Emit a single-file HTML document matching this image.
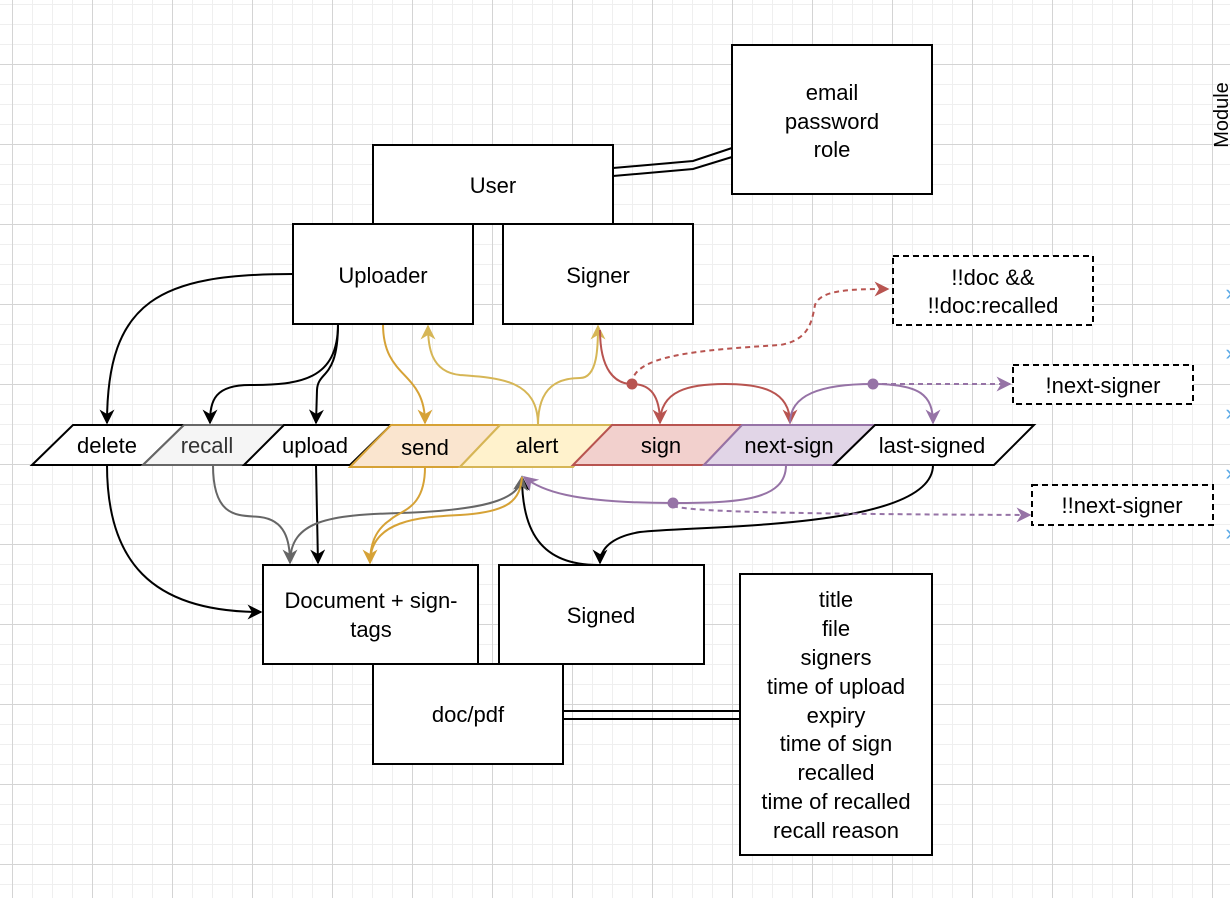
<!DOCTYPE html>
<html><head><meta charset="utf-8"><style>
html,body{margin:0;padding:0}
body{width:1230px;height:898px;overflow:hidden;background-color:#fff;
background-image:linear-gradient(to right,#d4d4d4 1px,transparent 1px),linear-gradient(to bottom,#d4d4d4 1px,transparent 1px),linear-gradient(to right,#efefef 1px,transparent 1px),linear-gradient(to bottom,#efefef 1px,transparent 1px);
background-size:80px 80px,80px 80px,20px 20px,20px 20px;
background-position:12px 0,0 64px,12px 0,0 4px;}
svg{position:absolute;left:0;top:0}
text{font-family:"Liberation Sans",Arial,sans-serif;font-size:22px;text-anchor:middle;fill:#000}
</style></head><body>
<svg width="1230" height="898" viewBox="0 0 1230 898">
<defs>
<marker id="k" viewBox="0 0 10 10" refX="9" refY="5" markerWidth="15" markerHeight="15" orient="auto-start-reverse" markerUnits="userSpaceOnUse"><path d="M0,0 L10,5 L0,10 L3,5z" fill="#000"/></marker>
<marker id="g" viewBox="0 0 10 10" refX="9" refY="5" markerWidth="15" markerHeight="15" orient="auto-start-reverse" markerUnits="userSpaceOnUse"><path d="M0,0 L10,5 L0,10 L3,5z" fill="#666"/></marker>
<marker id="o" viewBox="0 0 10 10" refX="9" refY="5" markerWidth="15" markerHeight="15" orient="auto-start-reverse" markerUnits="userSpaceOnUse"><path d="M0,0 L10,5 L0,10 L3,5z" fill="#d6a236"/></marker>
<marker id="y" viewBox="0 0 10 10" refX="9" refY="5" markerWidth="15" markerHeight="15" orient="auto-start-reverse" markerUnits="userSpaceOnUse"><path d="M0,0 L10,5 L0,10 L3,5z" fill="#d6b656"/></marker>
<marker id="r" viewBox="0 0 10 10" refX="9" refY="5" markerWidth="15" markerHeight="15" orient="auto-start-reverse" markerUnits="userSpaceOnUse"><path d="M0,0 L10,5 L0,10 L3,5z" fill="#b85450"/></marker>
<marker id="p" viewBox="0 0 10 10" refX="9" refY="5" markerWidth="15" markerHeight="15" orient="auto-start-reverse" markerUnits="userSpaceOnUse"><path d="M0,0 L10,5 L0,10 L3,5z" fill="#9673a6"/></marker>
</defs>
<g fill="none" stroke-width="2">
<path d="M293,274 C160,274 107,300 107,423" stroke="#000" marker-end="url(#k)"/>
<path d="M338,324 C338,380 300,385 250,385 C215,385 210,400 210,423" stroke="#000" marker-end="url(#k)"/>
<path d="M338,324 C338,380 318,370 317,390 L316,423" stroke="#000" marker-end="url(#k)"/>
<path d="M107,465 C107,560 150,612 261,612" stroke="#000" marker-end="url(#k)"/>
<path d="M316,465 L318,563" stroke="#000" marker-end="url(#k)"/>
<path d="M933,465 C933,530 700,525 640,532 C610,537 600,550 600,563" stroke="#000" marker-end="url(#k)"/>
<path d="M598,565 C540,565 522,530 522,477" stroke="#000" marker-end="url(#k)"/>
<path d="M213,465 C213,520 240,515 260,517 C285,520 290,540 290,563" stroke="#666" marker-end="url(#g)"/>
<path d="M290,563 C290,520 330,515 400,513 C500,510 520,495 522,477" stroke="#666" marker-end="url(#g)"/>
<path d="M383,324 C383,380 425,370 425,423" stroke="#d6a236" marker-end="url(#o)"/>
<path d="M425,467 C425,510 400,510 390,520 C375,530 370,545 370,563" stroke="#d6a236" marker-end="url(#o)"/>
<path d="M370,563 C370,520 420,517 460,515 C510,512 520,500 522,477" stroke="#d6a236"/>
<path d="M538,425 C538,380 500,378 460,375 C430,372 428,345 428,326" stroke="#d6b656" marker-end="url(#y)"/>
<path d="M538,425 C538,385 560,378 580,378 C598,378 598,345 598,326" stroke="#d6b656" marker-end="url(#y)"/>
<path d="M600,330 C600,370 615,384 632,384 C650,384 660,395 660,423" stroke="#b85450" marker-end="url(#r)"/>
<path d="M632,384 C632,355 700,350 780,345 C810,340 812,320 815,305 C820,290 850,289 888,289" stroke="#b85450" stroke-dasharray="5,4" marker-end="url(#r)"/>
<path d="M660,423 C660,390 690,384 725,384 C760,384 790,390 790,423" stroke="#b85450" marker-end="url(#r)"/>
<path d="M790,423 C790,395 820,384 873,384 C920,384 933,395 933,423" stroke="#9673a6" marker-end="url(#p)"/>
<path d="M873,384 L1010,384" stroke="#9673a6" stroke-dasharray="5,4" marker-end="url(#p)"/>
<path d="M786,465 C786,500 740,503 673,503 C570,503 540,490 524,477" stroke="#9673a6" marker-end="url(#p)"/>
<path d="M673,506 C690,512 800,514 1030,515" stroke="#9673a6" stroke-dasharray="5,4" marker-end="url(#p)"/>
<path d="M613,168 L693,161 L732,148" stroke="#000"/>
<path d="M613,176 L693,169 L732,157" stroke="#000"/>
<path d="M563,711 L740,711 M563,719 L740,719" stroke="#000"/>
</g>
<circle cx="632" cy="384" r="5.5" fill="#b85450"/>
<circle cx="873" cy="384" r="5.5" fill="#9673a6"/>
<circle cx="673" cy="503" r="5.5" fill="#9673a6"/>
<g stroke="#000" stroke-width="2" fill="#fff">
<rect x="732" y="45" width="200" height="149"/>
<rect x="373" y="145" width="240" height="79"/>
<rect x="293" y="224" width="180" height="100"/>
<rect x="503" y="224" width="190" height="100"/>
<rect x="263" y="565" width="215" height="99"/>
<rect x="499" y="565" width="205" height="99"/>
<rect x="373" y="664" width="190" height="100"/>
<rect x="740" y="574" width="192" height="281"/>
<g stroke-dasharray="6,4">
<rect x="893" y="256" width="200" height="69"/>
<rect x="1013" y="365" width="180" height="39"/>
<rect x="1032" y="485" width="181" height="40"/>
</g>
<polygon points="32,465 73,425 184,425 143,465"/>
<polygon points="143,465 184,425 284,425 244,465" fill="#f5f5f5" stroke="#666"/>
<polygon points="244,465 284,425 391,425 350,465"/>
<polygon points="350,467 391,425 500,425 460,467" fill="#fae5cf" stroke="#d6a236"/>
<polygon points="460,467 500,425 612,425 573,467" fill="#fff2cc" stroke="#d6b656"/>
<polygon points="573,465 612,425 742,425 704,465" fill="#f2d0cd" stroke="#b85450"/>
<polygon points="704,465 742,425 875,425 834,465" fill="#e1d5e7" stroke="#9673a6"/>
<polygon points="834,465 875,425 1034,425 994,465"/>
</g>
<text x="832" y="100">email</text><text x="832" y="129">password</text><text x="832" y="157">role</text>
<text x="493" y="193">User</text>
<text x="383" y="283">Uploader</text>
<text x="598" y="283">Signer</text>
<text x="993" y="285">!!doc &amp;&amp;</text><text x="993" y="313">!!doc:recalled</text>
<text x="1103" y="393">!next-signer</text>
<text x="1122" y="513">!!next-signer</text>
<text x="107" y="453">delete</text>
<text x="207" y="453" style="fill:#333">recall</text>
<text x="315" y="453">upload</text>
<text x="425" y="455">send</text>
<text x="537" y="453">alert</text>
<text x="661" y="453">sign</text>
<text x="789" y="453">next-sign</text>
<text x="932" y="453">last-signed</text>
<text x="371" y="608">Document + sign-</text><text x="371" y="637">tags</text>
<text x="601" y="623">Signed</text>
<text x="468" y="722">doc/pdf</text>
<text x="836" y="607">title</text><text x="836" y="636">file</text><text x="836" y="665">signers</text><text x="836" y="694">time of upload</text><text x="836" y="723">expiry</text><text x="836" y="751">time of sign</text><text x="836" y="780">recalled</text><text x="836" y="809">time of recalled</text><text x="836" y="838">recall reason</text>
<text x="0" y="0" transform="translate(1228,115) rotate(-90)" style="font-size:20px">Module</text>
<g style="font-size:14px;fill:#5aa9e6"><text x="1229" y="300" style="fill:#5aa9e6">›</text><text x="1229" y="360" style="fill:#5aa9e6">›</text><text x="1229" y="420" style="fill:#5aa9e6">›</text><text x="1229" y="480" style="fill:#5aa9e6">›</text><text x="1229" y="540" style="fill:#5aa9e6">›</text></g>
</svg>
</body></html>
